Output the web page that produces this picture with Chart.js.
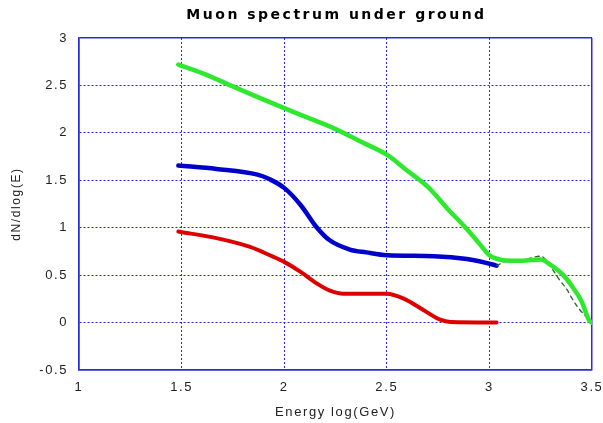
<!DOCTYPE html>
<html>
<head>
<meta charset="utf-8">
<script src="https://cdn.jsdelivr.net/npm/chart.js@4/dist/chart.umd.min.js"></script>
<style>
  html, body { margin: 0; padding: 0; background: #fff; }
  #wrap { width: 603px; height: 423px; }
</style>
</head>
<body>
<div id="wrap"><canvas id="muonChart" width="603" height="423"></canvas></div>
<script>
const chartTitle = 'Muon spectrum under ground';
const xTitle = 'Energy log(GeV)';
const yTitle = 'dN/dlog(E)';
const xTicks = [1, 1.5, 2, 2.5, 3, 3.5];
const yTicks = [-0.5, 0, 0.5, 1, 1.5, 2, 2.5, 3];

const greenX = [1.484, 1.6, 1.75, 1.9, 2.0, 2.12, 2.24, 2.38, 2.5, 2.6, 2.7, 2.8, 2.88, 2.95, 3.0, 3.04, 3.08, 3.16, 3.25, 3.3, 3.36, 3.41, 3.45, 3.487, 3.5];
const greenY = [2.72, 2.63, 2.49, 2.35, 2.26, 2.155, 2.05, 1.9, 1.77, 1.6, 1.43, 1.19, 1.01, 0.835, 0.71, 0.67, 0.655, 0.652, 0.665, 0.605, 0.5, 0.36, 0.22, 0.02, 0.0];

const blueX = [1.484, 1.67, 1.87, 1.93, 2.0, 2.08, 2.16, 2.22, 2.32, 2.4, 2.5, 2.73, 2.89, 3.02, 3.035];
const blueY = [1.655, 1.62, 1.56, 1.51, 1.42, 1.24, 1.0, 0.87, 0.77, 0.74, 0.71, 0.70, 0.67, 0.61, 0.60];

const redX = [1.484, 1.67, 1.83, 1.93, 2.0, 2.08, 2.16, 2.22, 2.29, 2.5, 2.58, 2.68, 2.76, 2.81, 3.035];
const redY = [0.96, 0.89, 0.80, 0.71, 0.64, 0.535, 0.41, 0.34, 0.305, 0.305, 0.255, 0.13, 0.03, 0.005, 0.0];

const fitX = [3.035, 3.08, 3.16, 3.25, 3.31, 3.34, 3.38, 3.40, 3.43, 3.45, 3.5];
const fitY = [0.60, 0.645, 0.66, 0.70, 0.553, 0.455, 0.342, 0.264, 0.165, 0.112, 0.0];

const toPoints = (xs, ys) => xs.map((x, i) => ({ x, y: ys[i] }));

const gridBlue = '#2a2ae0';

const spacingPlugin = {
  id: 'spacing',
  beforeLayout(chart) { chart.ctx.letterSpacing = '1.6px'; },
  beforeDraw(chart) { chart.ctx.letterSpacing = '1.6px'; },
  afterDraw(chart) {
    const { ctx, chartArea } = chart;
    ctx.save();
    ctx.letterSpacing = '2.5px';
    ctx.font = 'bold 14px "DejaVu Sans"';
    ctx.fillStyle = '#000';
    ctx.textAlign = 'center';
    ctx.textBaseline = 'middle';
    ctx.fillText(chartTitle, (chartArea.left + chartArea.right) / 2 + 1, 15);
    ctx.restore();
  }
};

// dotted grid lines, solid on the four sides of the box
const gridDash = (lo, hi) => (ctx) => {
  if (ctx.type !== 'tick') return [];
  const v = ctx.tick.value;
  return v === lo || v === hi ? [] : [2, 2];
};

const lineSet = (label, xs, ys, color, width, dash) => ({
  label,
  data: toPoints(xs, ys),
  borderColor: color,
  backgroundColor: color,
  borderWidth: width,
  borderDash: dash || [],
  pointRadius: 0,
  fill: false,
  cubicInterpolationMode: 'monotone',
  borderCapStyle: 'round',
  borderJoinStyle: 'round'
});

new Chart(document.getElementById('muonChart'), {
  type: 'line',
  data: {
    datasets: [
      lineSet('green', greenX, greenY, '#2ee82e', 4.5),
      lineSet('fit', fitX, fitY, '#2f5f2f', 1.3, [4, 4]),
      lineSet('blue', blueX, blueY, '#0000cc', 4.5),
      lineSet('red', redX, redY, '#dd0000', 4)
    ]
  },
  options: {
    responsive: false,
    devicePixelRatio: 1,
    animation: false,
    layout: { padding: { top: 38, right: 11, bottom: 0, left: 0 } },
    plugins: {
      legend: { display: false },
      title: { display: false },
      tooltip: { enabled: false }
    },
    scales: {
      x: {
        type: 'linear',
        min: 1,
        max: 3.5,
        afterBuildTicks: (scale) => { scale.ticks = xTicks.map((v) => ({ value: v })); },
        afterFit: (scale) => { scale.height = 53; scale.paddingLeft = 0; scale.paddingRight = 0; },
        ticks: {
          color: '#222',
          font: { family: 'Liberation Sans', size: 13 },
          padding: 10,
          maxRotation: 0,
          callback: (v) => String(v)
        },
        grid: {
          color: gridBlue,
          lineWidth: (ctx) => (ctx.tick && (ctx.tick.value === 1 || ctx.tick.value === 3.5) ? 1.5 : 1),
          drawTicks: false
        },
        border: { display: true, color: gridBlue, width: 1.5, dash: gridDash(1, 3.5) },
        title: {
          display: true,
          text: xTitle,
          color: '#222',
          font: { family: 'Liberation Sans', size: 13 },
          padding: { top: 0, bottom: 3 }
        }
      },
      y: {
        type: 'linear',
        min: -0.5,
        max: 3,
        afterBuildTicks: (scale) => { scale.ticks = yTicks.map((v) => ({ value: v })); },
        afterFit: (scale) => { scale.width = 79; scale.paddingTop = 0; scale.paddingBottom = 0; },
        ticks: {
          color: '#222',
          font: { family: 'Liberation Sans', size: 13 },
          padding: 11,
          callback: (v) => String(v)
        },
        grid: {
          color: gridBlue,
          lineWidth: (ctx) => (ctx.tick && (ctx.tick.value === -0.5 || ctx.tick.value === 3) ? 1.5 : 1),
          drawTicks: false
        },
        border: { display: true, color: gridBlue, width: 1.5, dash: gridDash(-0.5, 3) },
        title: {
          display: true,
          text: yTitle,
          color: '#222',
          font: { family: 'Liberation Sans', size: 12 },
          padding: { top: 9, bottom: 0 }
        }
      }
    }
  },
  plugins: [spacingPlugin]
});
</script>
</body>
</html>
